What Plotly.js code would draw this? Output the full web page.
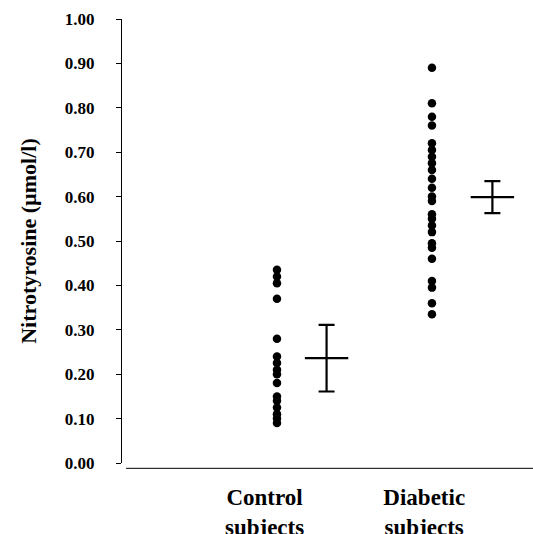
<!DOCTYPE html>
<html>
<head>
<meta charset="utf-8">
<script src="https://cdn.plot.ly/plotly-3.0.1.min.js"></script>
<style>html,body{margin:0;padding:0;background:#fff;}#chart{width:533px;height:534px;}</style>
</head>
<body>
<div id="chart"></div>
<script>
// Data
var groups = ["Control<br>subjects", "Diabetic<br>subjects"];
var controlValues = [0.435, 0.42, 0.405, 0.37, 0.28, 0.24, 0.225, 0.21, 0.20, 0.18, 0.15, 0.14, 0.125, 0.11, 0.10, 0.09];
var diabeticValues = [0.89, 0.81, 0.78, 0.76, 0.72, 0.705, 0.69, 0.675, 0.66, 0.64, 0.62, 0.60, 0.59, 0.56, 0.55, 0.535, 0.52, 0.495, 0.485, 0.46, 0.41, 0.395, 0.36, 0.335];
var groupMeans = [0.236, 0.599];
var groupErrors = [0.075, 0.036];
var yTickVals = [0, 0.1, 0.2, 0.3, 0.4, 0.5, 0.6, 0.7, 0.8, 0.9, 1.0];
var yTickText = ["0.00", "0.10", "0.20", "0.30", "0.40", "0.50", "0.60", "0.70", "0.80", "0.90", "1.00"];

var groupPos = [1, 2];
var errOffset = [0.32, 0.39];
var labelOffset = [-0.08, -0.05];

function repeat(v, n) { var a = []; for (var i = 0; i < n; i++) a.push(v); return a; }

var font = "Liberation Serif, Times New Roman, serif";
var dotMarker = {symbol: "circle", size: 8.5, color: "#000"};

var traces = [
  {type: "scatter", mode: "markers", x: repeat(groupPos[0], controlValues.length), y: controlValues, marker: dotMarker, hoverinfo: "y"},
  {type: "scatter", mode: "markers", x: repeat(groupPos[1], diabeticValues.length), y: diabeticValues, marker: dotMarker, hoverinfo: "y"},
  {type: "scatter", mode: "markers",
   x: [groupPos[0] + errOffset[0], groupPos[1] + errOffset[1]],
   y: groupMeans,
   marker: {symbol: "line-ew", size: 31, color: "#000", line: {width: 2.2, color: "#000"}},
   error_y: {type: "data", array: groupErrors, symmetric: true, color: "#000", thickness: 2.2, width: 8},
   hoverinfo: "y"}
];

var layout = {
  width: 533, height: 534,
  margin: {l: 122, r: 0, t: 19, b: 71},
  paper_bgcolor: "#fff", plot_bgcolor: "#fff",
  showlegend: false,
  font: {family: font, color: "#000"},
  xaxis: {
    range: [0, 2.652],
    showgrid: false, zeroline: false, showline: false,
    tickvals: [groupPos[0] + labelOffset[0], groupPos[1] + labelOffset[1]],
    ticktext: groups.map(function(g){ return "<b>" + g + "</b>"; }),
    ticks: "", tickfont: {family: font, size: 23, color: "#000"},
    ticklabelstandoff: 18
  },
  yaxis: {
    range: [0, 1.0],
    showgrid: false, zeroline: false,
    showline: true, linecolor: "#000", linewidth: 1,
    ticks: "outside", ticklen: 5, tickcolor: "#000", tickwidth: 1,
    tickvals: yTickVals,
    ticktext: yTickText.map(function(t){ return "<b>" + t + "</b>"; }),
    tickfont: {family: font, size: 17, color: "#000"},
    ticklabelstandoff: 18,
    title: {text: "<b>Nitrotyrosine (µmol/l)</b>", font: {family: font, size: 22, color: "#000"}, standoff: 22}
  },
  shapes: [
    {type: "line", xref: "paper", yref: "paper", x0: 0.01, x1: 1, y0: -0.012, y1: -0.012, line: {color: "#000", width: 1}}
  ]
};

Plotly.newPlot("chart", traces, layout, {displayModeBar: false, staticPlot: true});
</script>
</body>
</html>
